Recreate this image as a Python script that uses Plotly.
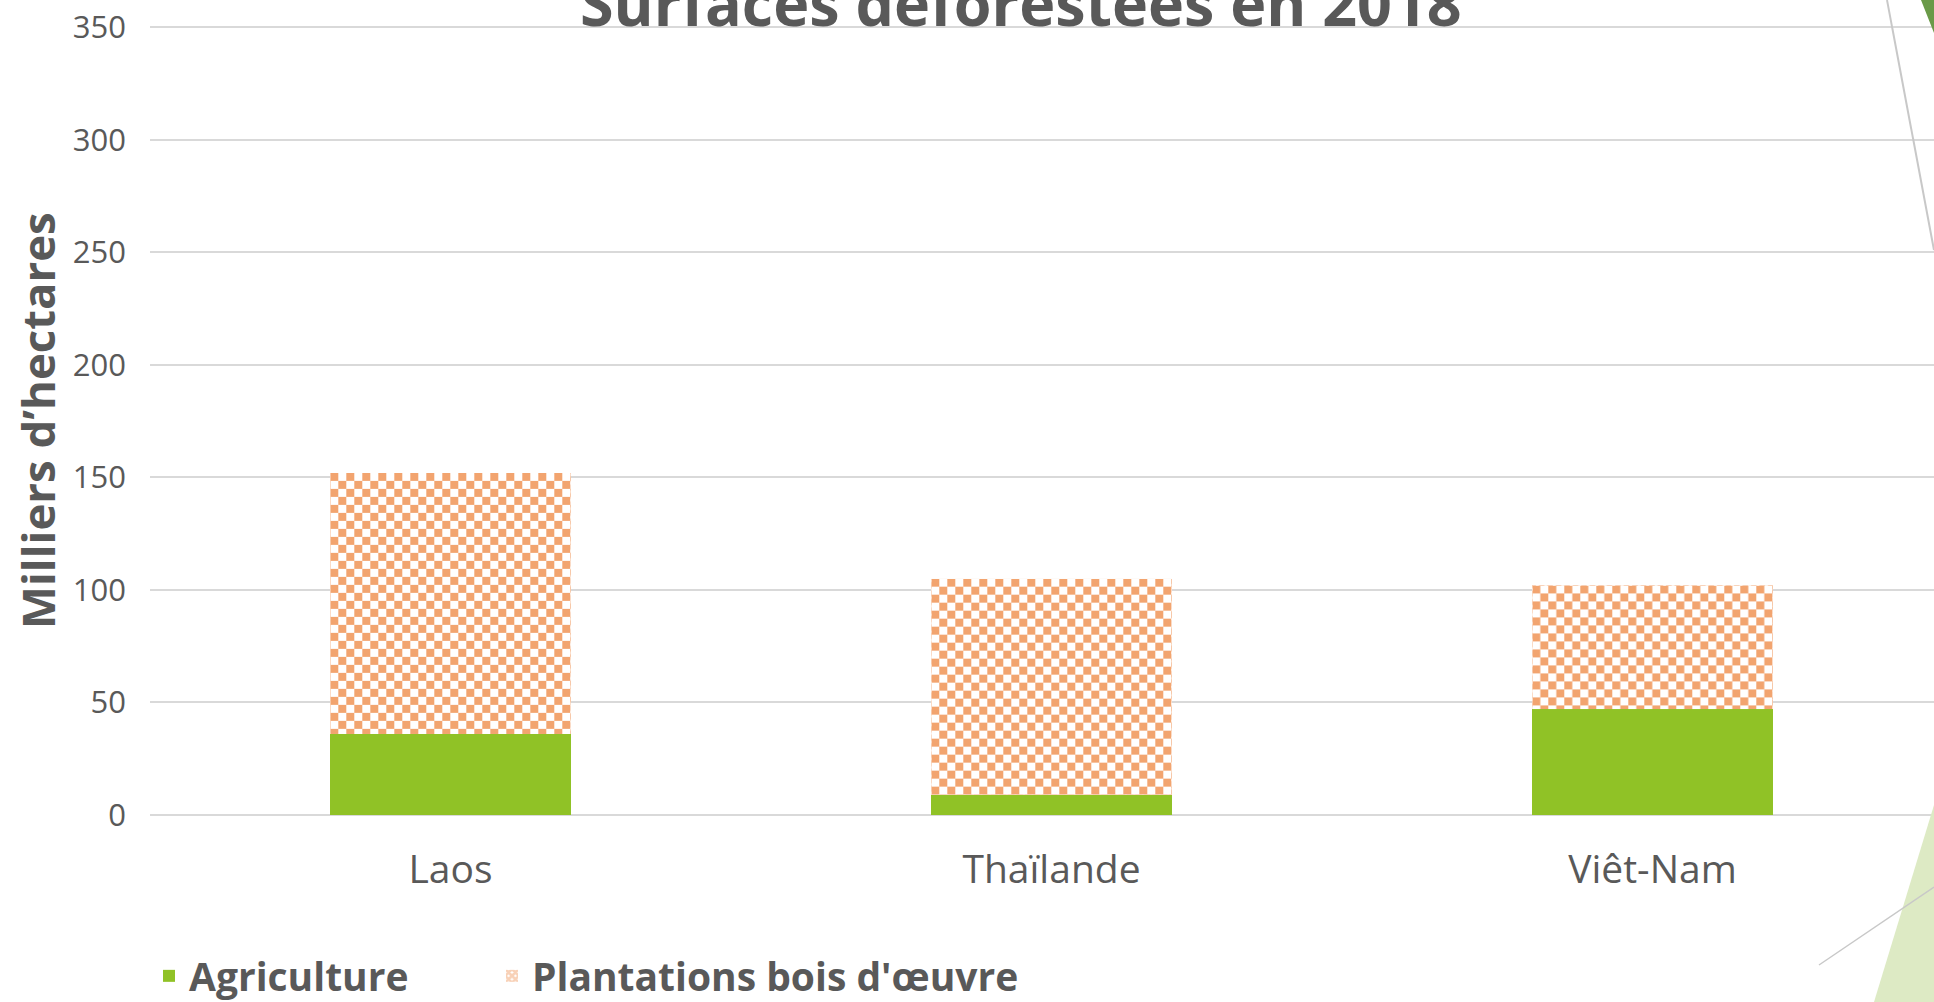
import base64
import plotly.graph_objects as go

# ---------------- data ----------------
categories = ["Laos", "Thaïlande", "Viêt-Nam"]
agriculture = [36, 9, 47]
plantations = [116, 96, 55]
y_ticks = [0, 50, 100, 150, 200, 250, 300, 350]
series_names = ["Agriculture", "Plantations bois d'œuvre"]
title_text = "Surfaces déforestées en 2018"
y_title = "Milliers d’hectares"

# ---------------- layout constants ----------------
W, H = 1934, 1002
ML, MR, MT, MB = 150, 0, 25, 187
PW = W - ML - MR
PH = H - MT - MB
YTOP = 351
CAT_PX = 601
XMAX = PW / CAT_PX - 0.5
BAR_W = 0.4

GREEN = "#90C226"
ORANGE = "#F2A46F"
TEXT = "#595959"
GRID = "#D9D9D9"
FONT = "Open Sans"


def px(x):
    return (x - ML) / PW


def py(y):
    return (H - MB - y) / PH


positions = list(range(len(categories)))

fig = go.Figure()
fig.add_bar(
    x=positions, y=agriculture, name=series_names[0], width=BAR_W,
    marker=dict(color=GREEN, line=dict(width=0)), legend="legend",
)
fig.add_bar(
    x=positions, y=plantations, name=series_names[1], width=BAR_W,
    marker=dict(color="white", line=dict(width=0),
                pattern=dict(shape="x", fgcolor=ORANGE, bgcolor="white",
                             size=6, solidity=0.8)),
    legend="legend2",
)

# checkerboard fill for the plantations segments (placed on data axes)
images = []
for i, (a, p) in enumerate(zip(agriculture, plantations)):
    wpx = BAR_W * CAT_PX
    hpx = p * PH / YTOP
    svg = (
        f"<svg xmlns='http://www.w3.org/2000/svg' width='{wpx:.1f}' height='{hpx:.1f}' "
        f"viewBox='0 0 {wpx:.1f} {hpx:.1f}' preserveAspectRatio='none'>"
        "<defs><pattern id='c' width='16' height='16' patternUnits='userSpaceOnUse'>"
        "<rect width='16' height='16' fill='white'/>"
        f"<rect width='8' height='8' fill='{ORANGE}'/>"
        f"<rect x='8' y='8' width='8' height='8' fill='{ORANGE}'/>"
        "</pattern></defs>"
        f"<rect width='{wpx:.1f}' height='{hpx:.1f}' fill='url(#c)'/></svg>"
    )
    src = "data:image/svg+xml;base64," + base64.b64encode(svg.encode("utf-8")).decode()
    images.append(dict(
        source=src, xref="x", yref="y", x=positions[i] - BAR_W / 2, y=a + p,
        sizex=BAR_W, sizey=p, xanchor="left", yanchor="top",
        sizing="stretch", layer="above",
    ))

# decorative slide shapes (paper coordinates)
shapes = [
    dict(type="path", xref="paper", yref="paper", layer="above",
         path=f"M{px(1874)},{py(1002)} L{px(1934)},{py(805)} L{px(1934)},{py(1002)} Z",
         fillcolor="#DDEAC4", line=dict(width=0)),
    dict(type="line", xref="paper", yref="paper", layer="above",
         x0=px(1819), y0=py(965), x1=px(1934), y1=py(887),
         line=dict(color="#C8C8C8", width=1.5)),
    dict(type="path", xref="paper", yref="paper", layer="above",
         path=f"M{px(1921)},{py(0)} L{px(1934)},{py(0)} L{px(1934)},{py(33)} Z",
         fillcolor="#6A9A48", line=dict(width=0)),
    dict(type="line", xref="paper", yref="paper", layer="above",
         x0=px(1887), y0=py(0), x1=px(1934), y1=py(250),
         line=dict(color="#C8C8C8", width=2)),
]

annotations = [
    dict(text=title_text, xref="paper", yref="paper", x=px(1021), y=py(2),
         xanchor="center", yanchor="middle", showarrow=False,
         font=dict(family=FONT, size=61, color=TEXT, weight=700)),
    dict(text=y_title, xref="paper", yref="paper", x=px(37), y=py(421),
         xanchor="center", yanchor="middle", textangle=-90, showarrow=False,
         font=dict(family=FONT, size=45.5, color=TEXT, weight=700)),
]

legend_common = dict(
    orientation="h", yanchor="middle", xanchor="left", y=py(976),
    font=dict(family=FONT, size=39, color=TEXT, weight=700),
    bgcolor="rgba(0,0,0,0)", borderwidth=0,
)

fig.update_layout(
    width=W, height=H,
    margin=dict(l=ML, r=MR, t=MT, b=MB, pad=0, autoexpand=False),
    paper_bgcolor="white", plot_bgcolor="white",
    barmode="stack",
    showlegend=True,
    legend=dict(x=px(149), **legend_common),
    legend2=dict(x=px(492), **legend_common),
    xaxis=dict(
        range=[-0.5, XMAX], tickvals=positions, ticktext=categories,
        showgrid=False, zeroline=False, showline=False, ticks="",
        ticklabelstandoff=28, fixedrange=True,
        tickfont=dict(family=FONT, size=39, color=TEXT),
    ),
    yaxis=dict(
        range=[0, YTOP], tickvals=y_ticks, showgrid=True, gridcolor=GRID,
        gridwidth=2, zeroline=True, zerolinecolor=GRID, zerolinewidth=2,
        showline=False, ticks="", ticklabelstandoff=23, fixedrange=True,
        tickfont=dict(family=FONT, size=31, color=TEXT),
    ),
    images=images,
    shapes=shapes,
    annotations=annotations,
    font=dict(family=FONT, color=TEXT),
)

fig.write_html(
    "out.html",
    config={"displayModeBar": False},
    post_script="document.body.style.margin='0px';document.body.style.overflow='hidden';",
)
